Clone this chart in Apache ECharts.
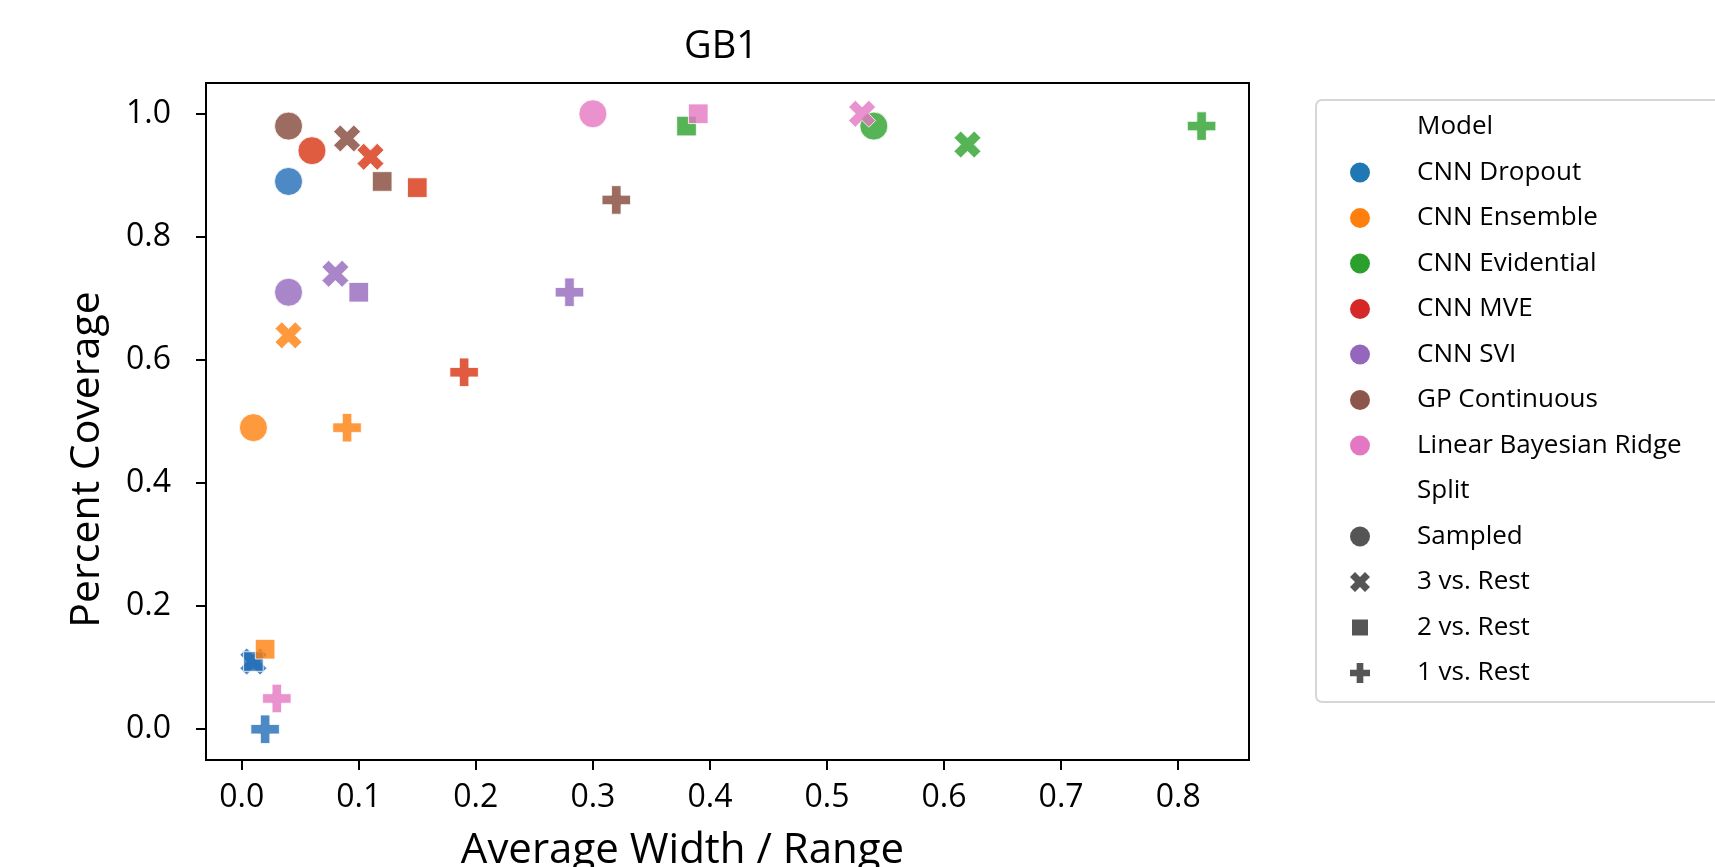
<!DOCTYPE html>
<html>
<head>
<meta charset="utf-8">
<script src="https://cdn.jsdelivr.net/npm/echarts@6/dist/echarts.min.js"></script>
<style>
  html, body { margin: 0; padding: 0; background: #fff; }
  #chart { width: 1715px; height: 867px; }
</style>
</head>
<body>
<div id="chart"></div>
<script>
// models (hue) and splits (marker style)
const models = ['CNN Dropout', 'CNN Ensemble', 'CNN Evidential', 'CNN MVE', 'CNN SVI', 'GP Continuous', 'Linear Bayesian Ridge'];
const modelColors = ['#1f77b4', '#ff7f0e', '#2ca02c', '#d62728', '#9467bd', '#8c564b', '#e377c2'];
// colours the markers come out with in the plot (slightly shifted from the legend ones)
const markerColors = ['#206bb5', '#ff7f0e', '#2ca02c', '#d83312', '#9467bd', '#844738', '#e377c2'];
const splits = ['Sampled', '3 vs. Rest', '2 vs. Rest', '1 vs. Rest'];

// average width / range and percent coverage, one value per model (same order as models)
const sampledWidth = [0.04, 0.01, 0.54, 0.06, 0.04, 0.04, 0.30];
const sampledCoverage = [0.89, 0.49, 0.98, 0.94, 0.71, 0.98, 1.00];
const threeRestWidth = [0.01, 0.04, 0.62, 0.11, 0.08, 0.09, 0.53];
const threeRestCoverage = [0.11, 0.64, 0.95, 0.93, 0.74, 0.96, 1.00];
const twoRestWidth = [0.01, 0.02, 0.38, 0.15, 0.10, 0.12, 0.39];
const twoRestCoverage = [0.11, 0.13, 0.98, 0.88, 0.71, 0.89, 1.00];
const oneRestWidth = [0.02, 0.09, 0.82, 0.19, 0.28, 0.32, 0.03];
const oneRestCoverage = [0.00, 0.49, 0.98, 0.58, 0.71, 0.86, 0.05];

// tick labels
const xTicks = [0, 0.1, 0.2, 0.3, 0.4, 0.5, 0.6, 0.7, 0.8];
const yTicks = [0, 0.2, 0.4, 0.6, 0.8, 1.0];

const widths = [sampledWidth, threeRestWidth, twoRestWidth, oneRestWidth];
const coverages = [sampledCoverage, threeRestCoverage, twoRestCoverage, oneRestCoverage];

// matplotlib-like filled markers
const xPath = 'path://M2,-4L0,-2L-2,-4L-4,-2L-2,0L-4,2L-2,4L0,2L2,4L4,2L2,0L4,-2Z';
const plusPath = 'path://M-1,-3L-1,-1L-3,-1L-3,1L-1,1L-1,3L1,3L1,1L3,1L3,-1L1,-1L1,-3Z';
// square with empty margin so legend icon comes out smaller
const squarePath = 'path://M-5,-5M5,5M-4,-4L4,-4L4,4L-4,4Z';
const splitSymbols = ['circle', xPath, squarePath, plusPath];
const splitSizes = [28, 27, 24.5, 28.5];

const font = '"Open Sans", "Noto Sans", sans-serif';

const series = [];
series.push({ name: 'Model', type: 'scatter', data: [] });
models.forEach(function (m, i) {
  series.push({
    name: m,
    type: 'scatter',
    color: modelColors[i],
    itemStyle: { color: markerColors[i], opacity: 0.8, borderColor: '#fff', borderWidth: 1 },
    emphasis: { disabled: true },
    data: splits.map(function (s, j) {
      return {
        value: [widths[j][i], coverages[j][i]],
        symbol: splitSymbols[j],
        symbolSize: splitSizes[j]
      };
    })
  });
});
series.push({ name: 'Split', type: 'scatter', data: [] });
splits.forEach(function (s, j) {
  series.push({ name: s, type: 'scatter', color: '#555', symbol: splitSymbols[j], data: [] });
});

const legendData = [{ name: 'Model', icon: 'none' }]
  .concat(models.map(function (m, i) {
    return { name: m, icon: 'circle', itemStyle: { color: modelColors[i], opacity: 1, borderWidth: 0 } };
  }))
  .concat([{ name: 'Split', icon: 'none' }])
  .concat(splits.map(function (s, j) {
    return { name: s, icon: splitSymbols[j], itemStyle: { color: '#555', opacity: 1, borderWidth: 0 } };
  }));

const chart = echarts.init(document.getElementById('chart'), null, { renderer: 'canvas' });
chart.setOption({
  animation: false,
  backgroundColor: '#fff',
  title: {
    text: 'GB1',
    left: 684,
    top: 28,
    padding: 0,
    textStyle: { fontFamily: font, fontSize: 38, fontWeight: 'normal', color: '#000' }
  },
  grid: {
    left: 206, right: 466, top: 83, bottom: 107,
    show: true, borderColor: '#000', borderWidth: 2, backgroundColor: 'transparent',
    outerBoundsMode: 'none', containLabel: false
  },
  xAxis: {
    type: 'value',
    min: -0.0305, max: 0.8605,
    name: 'Average Width / Range',
    nameLocation: 'middle',
    nameGap: 70,
    nameTextStyle: { fontFamily: font, fontSize: 42, color: '#000', padding: [0, 90, 0, 0] },
    axisLine: { show: true, onZero: false, lineStyle: { color: '#000', width: 2 } },
    axisTick: { show: true, length: 10, customValues: xTicks, lineStyle: { color: '#000', width: 2 } },
    axisLabel: {
      customValues: xTicks, margin: 22, fontFamily: font, fontSize: 32, color: '#000',
      formatter: function (v) { return v.toFixed(1); }
    },
    splitLine: { show: false }
  },
  yAxis: {
    type: 'value',
    min: -0.05, max: 1.05,
    name: 'Percent Coverage',
    nameLocation: 'middle',
    nameGap: 98,
    nameRotate: 90,
    nameTextStyle: { fontFamily: font, fontSize: 41, color: '#000', padding: [0, 76, 0, 0] },
    axisLine: { show: true, onZero: false, lineStyle: { color: '#000', width: 2 } },
    axisTick: { show: true, length: 10, customValues: yTicks, lineStyle: { color: '#000', width: 2 } },
    axisLabel: {
      customValues: yTicks, margin: 35, fontFamily: font, fontSize: 32, color: '#000',
      formatter: function (v) { return v.toFixed(1); }
    },
    splitLine: { show: false }
  },
  legend: {
    orient: 'vertical',
    left: 1350,
    top: 114,
    padding: 0,
    itemWidth: 20,
    itemHeight: 26,
    itemGap: 19.5,
    selectedMode: false,
    symbolKeepAspect: true,
    itemStyle: { opacity: 1, borderWidth: 0 },
    textStyle: { fontFamily: font, fontSize: 26, lineHeight: 26, color: '#000', padding: [0, 0, 0, 42] },
    data: legendData
  },
  graphic: [{
    type: 'rect',
    z: 0,
    shape: { x: 1316, y: 100, width: 460, height: 602, r: 6 },
    style: { fill: '#fff', stroke: '#d6d6d6', lineWidth: 2 }
  }],
  series: series
});
</script>
</body>
</html>
